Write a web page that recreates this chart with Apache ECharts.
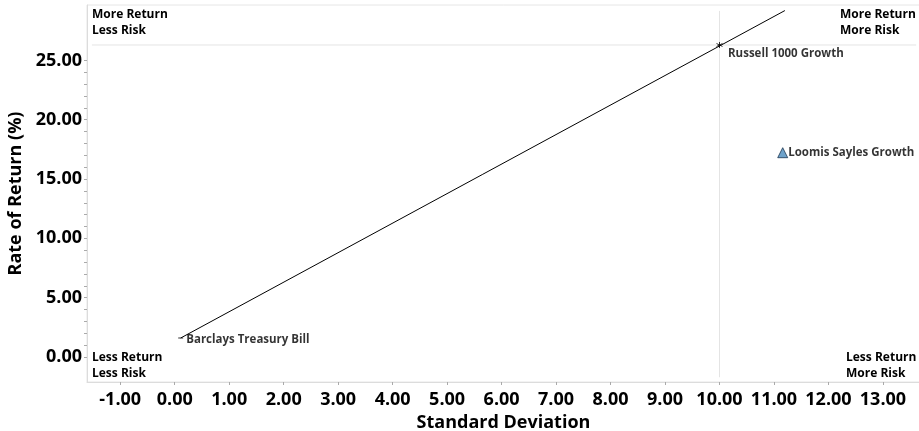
<!DOCTYPE html>
<html><head><meta charset="utf-8">
<script src="https://cdn.jsdelivr.net/npm/echarts@6/dist/echarts.min.js"></script>
<style>html,body{margin:0;padding:0;background:#fff}#c{width:919px;height:431px}</style>
</head><body><div id="c"></div>
<script>
// ---- data ----
const xTicks = [-1,0,1,2,3,4,5,6,7,8,9,10,11,12,13];
const yTicks = [0,5,10,15,20,25];
const yMinorTicks = [0,1,2,3,4,5,6,7,8,9,10,11,12,13,14,15,16,17,18,19,20,21,22,23,24,25];
const names = ['Barclays Treasury Bill','Russell 1000 Growth','Loomis Sayles Growth'];
const stdDev = [0.11, 10.0, 11.16];
const returns = [1.6, 26.3, 17.22];
const cmlEnd = [11.2, 29.2];
const xRange = [-1.61, 13.68];
const yRange = [-2.11, 29.67];

const FONT = '"Open Sans", "DejaVu Sans", sans-serif';
const chart = echarts.init(document.getElementById('c'), null, {renderer:'canvas'});
const rx = stdDev[1], ry = returns[1];
const asterisk = 'path://M0,-5L0,5M-4.33,-2.5L4.33,2.5M-4.33,2.5L4.33,-2.5';

function cornerText(pos, lines){
  return Object.assign({type:'text', style:{text:lines.join('\n'), font:'bold 12px '+FONT, fill:'#000', lineHeight:16}}, pos);
}
const ptLabel = (extra)=>Object.assign({show:true, position:'right', formatter:'{b}', fontFamily:FONT, fontWeight:'bold', fontSize:11.5, color:'#000'}, extra);

chart.setOption({
  animation:false,
  grid:{left:87, top:5, right:-1, bottom:49, containLabel:false, outerBoundsMode:'none',
    show:true, borderColor:'#e6e6e6', borderWidth:1},
  xAxis:{type:'value', min:xRange[0], max:xRange[1],
    name:'Standard Deviation', nameLocation:'middle', nameGap:29,
    nameTextStyle:{fontFamily:FONT, fontWeight:'bold', fontSize:18, color:'#000'},
    axisLine:{show:true, onZero:false, lineStyle:{color:'#dcdcdc'}},
    axisTick:{show:true, customValues:xTicks, length:3, lineStyle:{color:'#aaa'}},
    axisLabel:{customValues:xTicks, formatter:v=>v.toFixed(2), fontFamily:FONT, fontWeight:'bold', fontSize:18, color:'#000', margin:9},
    splitLine:{show:false}},
  yAxis:{type:'value', min:yRange[0], max:yRange[1],
    name:'Rate of Return (%)', nameLocation:'middle', nameGap:54,
    nameTextStyle:{fontFamily:FONT, fontWeight:'bold', fontSize:18, color:'#000'},
    axisLine:{show:true, onZero:false, lineStyle:{color:'#dcdcdc'}},
    axisTick:{show:true, customValues:yMinorTicks, length:3, lineStyle:{color:'#aaa'}},
    axisLabel:{customValues:yTicks, formatter:v=>v.toFixed(2), fontFamily:FONT, fontWeight:'bold', fontSize:18, color:'#000', margin:5},
    splitLine:{show:false}},
  graphic:[
    cornerText({left:92, top:7}, ['More Return','Less Risk']),
    cornerText({left:840, top:7}, ['More Return','More Risk']),
    cornerText({left:92, top:350}, ['Less Return','Less Risk']),
    cornerText({left:846, top:350}, ['Less Return','More Risk'])
  ],
  series:[
    {type:'line', silent:true, symbol:'none', lineStyle:{color:'#e4e4e4', width:1},
      data:[[rx, yRange[0]+0.4],[rx, yRange[1]-0.5]], z:1},
    {type:'line', silent:true, symbol:'none', lineStyle:{color:'#e4e4e4', width:1},
      data:[[xRange[0]+0.09, ry],[xRange[1]-0.07, ry]], z:1},
    {type:'line', silent:true, symbol:'none', lineStyle:{color:'#000', width:1},
      data:[[stdDev[0], returns[0]], cmlEnd], z:3},
    {type:'scatter', silent:true, z:4, data:[{name:names[0], value:[stdDev[0], returns[0]]}],
      symbol:'rect', symbolSize:[5,1], itemStyle:{color:'#000'},
      label:ptLabel({distance:3, offset:[0,2]})},
    {type:'scatter', silent:true, z:4, data:[{name:names[1], value:[stdDev[1], returns[1]]}],
      symbol:asterisk, symbolSize:6, itemStyle:{color:'none', borderColor:'#000', borderWidth:1},
      label:ptLabel({distance:3, offset:[0,9]})},
    {type:'scatter', silent:true, z:4, data:[{name:names[2], value:[stdDev[2], returns[2]]}],
      symbol:'triangle', symbolSize:10, itemStyle:{color:'#4a8bbd', borderColor:'#1c3650', borderWidth:1},
      label:ptLabel({distance:0})}
  ]
});
</script></body></html>
